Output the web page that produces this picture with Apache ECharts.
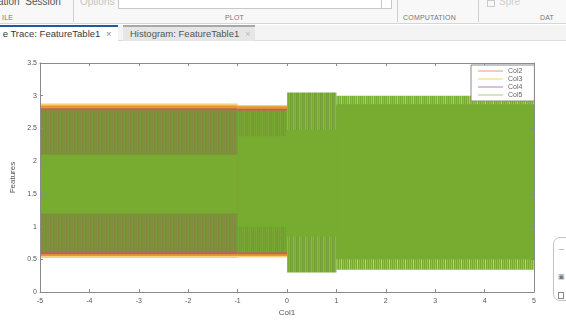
<!DOCTYPE html>
<html lang="en">
<head>
    <meta http-equiv="Content-Type" content="text/html; charset=UTF-8"/>
    <title>Feature Trace</title>
    <script src="https://cdn.jsdelivr.net/npm/echarts@6.0.0/dist/echarts.min.js"></script>
    <style>
        * {
            margin: 0;
            padding: 0;
            box-sizing: border-box;
        }

        body {
            width: 566px;
            height: 322px;
            overflow: hidden;
            background: #ffffff;
            font-family: 'Liberation Sans', 'Arial', sans-serif;
            position: relative;
        }

        .abs {
            position: absolute;
            white-space: nowrap;
        }

        .strip {
            left: 0;
            top: 0;
            width: 566px;
            height: 24px;
            background: #f8f8f8;
            border-bottom: 1px solid #d6d6d6;
        }

        .sep {
            top: 0;
            width: 1px;
            height: 22px;
            background: #d0d0d0;
        }

        .grp {
            top: 14px;
            font-size: 7px;
            color: #777;
            letter-spacing: 0.2px;
        }

        .tabrow {
            left: 0;
            top: 25px;
            width: 566px;
            height: 16px;
            background: #f4f4f4;
            border-bottom: 1px solid #dcdcdc;
        }

        .tab {
            top: 25px;
            height: 16px;
            font-size: 9.5px;
            line-height: 15px;
            color: #3a3a3a;
        }

        #chart {
            position: absolute;
            left: 0;
            top: 0;
            width: 566px;
            height: 322px;
        }
    </style>
</head>
<body>
<!-- toolstrip -->
<div class="abs strip"></div>
<div class="abs" style="left:-2px;top:-4px;font-size:10px;color:#555;">ation &nbsp;Session</div>
<div class="abs" style="left:80px;top:-4px;font-size:10px;color:#c4c4c4;">Options</div>
<div class="abs" style="left:118px;top:-1px;width:274px;height:10px;border:1px solid #c8c8c8;background:#fff;"></div>
<div class="abs" style="left:381px;top:-1px;width:11px;height:10px;border:1px solid #c8c8c8;"></div>
<div class="abs sep" style="left:73px;"></div>
<div class="abs sep" style="left:397px;"></div>
<div class="abs sep" style="left:478px;"></div>
<div class="abs" style="left:487px;top:0;width:8px;height:7px;border:1px solid #ccc;"></div>
<div class="abs" style="left:499px;top:-4px;font-size:10px;color:#cfcfcf;">Spre</div>
<div class="abs grp" style="left:2px;">ILE</div>
<div class="abs grp" style="left:225px;">PLOT</div>
<div class="abs grp" style="left:403px;">COMPUTATION</div>
<div class="abs grp" style="left:540px;">DAT</div>

<!-- document tabs -->
<div class="abs tabrow"></div>
<div class="abs tab" style="left:0;width:118px;background:#fff;border-top:2px solid #1d5b9a;line-height:13px;">
    &nbsp;e Trace: FeatureTable1 <span style="color:#888;margin-left:3px;">&times;</span>
</div>
<div class="abs tab" style="left:123px;width:132px;background:#e6e6e6;border-top:2px solid #a8a8a8;line-height:13px;padding-left:7px;color:#555;">
    Histogram: FeatureTable1 <span style="color:#bbb;margin-left:3px;">&times;</span>
</div>

<!-- side panel edge -->
<div class="abs" style="left:553px;top:237px;width:24px;height:64px;border:1px solid #c4c4c4;border-radius:7px;background:#fff;"></div>
<div class="abs" style="left:559px;top:249px;width:5px;height:1px;background:#bbb;"></div>
<div class="abs" style="left:558px;top:273px;font-size:7px;color:#777;">&#9635;</div>
<div class="abs" style="left:558px;top:292px;width:6px;height:7px;border:1px solid #888;"></div>

<div id="chart"></div>

<script>
    // each trace is drawn as the envelope it fills over a span of Col1
    const segStart = [-5, -1, 0, 1];
    const segEnd = [-1, 0, 1, 5];

    const col2Low = [0.55, 0.55, 0.9, 0.5];
    const col2High = [2.85, 2.84, 2.45, 2.85];
    const col3Low = [0.52, 0.53, 0.9, 0.5];
    const col3High = [2.88, 2.86, 2.45, 2.85];
    const col4Low = [0.58, 0.58, 0.9, 0.5];
    const col4High = [2.81, 2.8, 2.45, 2.85];
    const col5Low = [0.62, 0.61, 0.3, 0.34];
    const col5High = [2.78, 2.77, 3.05, 3.0];
    const col5CoreLow = [1.2, 1.0, 0.85, 0.5];
    const col5CoreHigh = [2.1, 2.38, 2.48, 2.87];

    const xTicks = [-5, -4, -3, -2, -1, 0, 1, 2, 3, 4, 5];
    const yTicks = [0, 0.5, 1, 1.5, 2, 2.5, 3, 3.5];
    const names = ['Col2', 'Col3', 'Col4', 'Col5'];
    const colors = ['#D95319', '#EDB120', '#7E2F8E', '#77AC30'];

    function stripes(cols) {
        const c = document.createElement('canvas');
        c.width = cols.length;
        c.height = 4;
        const g = c.getContext('2d');
        cols.forEach(function (col, i) {
            g.fillStyle = col;
            g.fillRect(i, 0, 1, 4);
        });
        return {image: c, repeat: 'repeat'};
    }

    // texture of the sparse part of Col5, one per span
    const col5Fills = [
        stripes(['#7f8c3e', '#7a9639', '#82883f', '#7c903c', '#789b37', '#83863f', '#7d8f3d', '#7a9439']),
        stripes(['#79a035', '#80923d', '#77a733', '#7d9a3a', '#77aa31', '#7f943d']),
        stripes(['#77ac30', '#86b24a', '#749f37', '#77ac30', '#7c9e40', '#8db753']),
        stripes(['#77ac30', '#8fbb58', '#77ac30', '#9cc26a', '#78ad32', '#b0cd88', '#77ac30', '#92bc5c'])
    ];

    function bands(lo, hi) {
        return segStart.map(function (s, i) {
            return [s, segEnd[i], lo[i], hi[i]];
        });
    }

    function bandSeries(name, color, data, fill) {
        return {
            type: 'custom',
            name: name,
            data: data,
            encode: {x: [0, 1], y: [2, 3]},
            itemStyle: {color: color},
            renderItem: function (params, api) {
                const p0 = api.coord([api.value(0), api.value(3)]);
                const p1 = api.coord([api.value(1), api.value(2)]);
                const shape = echarts.graphic.clipRectByRect({
                    x: p0[0], y: p0[1], width: p1[0] - p0[0], height: p1[1] - p0[1]
                }, params.coordSys);
                return shape && {
                    type: 'rect',
                    shape: shape,
                    style: {fill: typeof fill === 'function' ? fill(params.dataIndex) : fill}
                };
            }
        };
    }

    const axisCol = '#8a8a8a';
    const labelStyle = {fontSize: 7, color: '#555', fontFamily: 'Liberation Sans'};

    const myChart = echarts.init(document.getElementById('chart'));
    const option = {
        animation: false,
        grid: {left: 40, right: 32, top: 63, bottom: 23},
        legend: {
            orient: 'vertical',
            left: 471,
            top: 65,
            data: names.map(function (n) { return {name: n, icon: 'rect'}; }),
            itemWidth: 25,
            itemHeight: 1,
            itemGap: 0,
            padding: [2, 12, 2, 7],
            borderColor: '#8a8a8a',
            borderWidth: 1,
            backgroundColor: '#ffffff',
            itemStyle: {opacity: 0.6},
            textStyle: {fontSize: 7, color: '#666', lineHeight: 8, fontFamily: 'Liberation Sans'},
            z: 10
        },
        xAxis: [{
            type: 'value', min: xTicks[0], max: xTicks[xTicks.length - 1], interval: 1,
            position: 'bottom', z: 5,
            name: 'Col1', nameLocation: 'middle', nameGap: 13,
            nameTextStyle: {fontSize: 8, color: '#555', fontFamily: 'Liberation Sans'},
            axisLine: {onZero: false, lineStyle: {color: axisCol}},
            axisTick: {inside: true, length: 3, lineStyle: {color: axisCol}},
            axisLabel: Object.assign({margin: 5}, labelStyle),
            splitLine: {show: false}
        }, {
            type: 'value', min: xTicks[0], max: xTicks[xTicks.length - 1], interval: 1,
            position: 'top', z: 5,
            axisLine: {onZero: false, lineStyle: {color: axisCol}},
            axisTick: {inside: true, length: 3, lineStyle: {color: axisCol}},
            axisLabel: {show: false},
            splitLine: {show: false}
        }],
        yAxis: [{
            type: 'value', min: yTicks[0], max: yTicks[yTicks.length - 1], interval: 0.5,
            position: 'left', z: 5,
            name: 'Features', nameLocation: 'middle', nameGap: 17,
            nameTextStyle: {fontSize: 8, color: '#555', fontFamily: 'Liberation Sans'},
            axisLine: {show: true, onZero: false, lineStyle: {color: axisCol}},
            axisTick: {show: true, inside: true, length: 3, lineStyle: {color: axisCol}},
            axisLabel: Object.assign({margin: 3}, labelStyle),
            splitLine: {show: false}
        }, {
            type: 'value', min: yTicks[0], max: yTicks[yTicks.length - 1], interval: 0.5,
            position: 'right', z: 5,
            axisLine: {show: true, onZero: false, lineStyle: {color: axisCol}},
            axisTick: {show: true, inside: true, length: 3, lineStyle: {color: axisCol}},
            axisLabel: {show: false},
            splitLine: {show: false}
        }],
        series: [
            bandSeries('Col2', colors[0], bands(col2Low, col2High), 'rgba(217,83,25,0.8)'),
            bandSeries('Col3', colors[1], bands(col3Low, col3High), 'rgba(237,177,32,0.6)'),
            bandSeries('Col4', colors[2], bands(col4Low, col4High), 'rgba(126,47,142,0.45)'),
            bandSeries('Col5', colors[3], bands(col5Low, col5High), function (i) { return col5Fills[i]; }),
            bandSeries('Col5', colors[3], bands(col5CoreLow, col5CoreHigh), colors[3])
        ]
    };
    myChart.setOption(option);
</script>
</body>
</html>
